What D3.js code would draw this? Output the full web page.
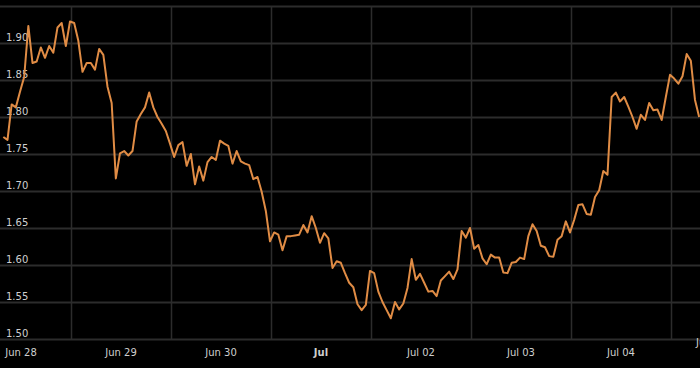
<!DOCTYPE html>
<html>
<head>
<meta charset="utf-8">
<script src="https://cdn.jsdelivr.net/npm/d3@7"></script>
<style>
  html, body { margin: 0; padding: 0; background: #000; }
  svg { display: block; }
</style>
</head>
<body>
<svg id="chart" width="700" height="368"></svg>
<script>
// ---- data ----
const startTime = Date.UTC(2024, 5, 27, 20); // first hourly observation: Jun 27 20:00
const values = [
  1.773,1.769,1.817,1.813,1.834,1.854,1.923,1.873,1.875,1.894,
  1.880,1.896,1.887,1.921,1.927,1.896,1.929,1.927,1.903,1.861,
  1.873,1.873,1.864,1.892,1.884,1.841,1.819,1.717,1.751,1.754,
  1.748,1.754,1.794,1.804,1.813,1.833,1.813,1.800,1.791,1.781,
  1.764,1.746,1.762,1.766,1.734,1.750,1.709,1.733,1.714,1.739,
  1.746,1.742,1.768,1.764,1.761,1.737,1.754,1.740,1.737,1.735,
  1.716,1.719,1.699,1.673,1.632,1.644,1.641,1.620,1.639,1.639,
  1.640,1.641,1.654,1.644,1.666,1.650,1.630,1.643,1.636,1.596,
  1.605,1.603,1.589,1.576,1.570,1.547,1.539,1.546,1.592,1.589,
  1.564,1.550,1.539,1.528,1.550,1.540,1.548,1.569,1.608,1.580,
  1.588,1.576,1.564,1.565,1.558,1.579,1.585,1.591,1.581,1.594,
  1.646,1.637,1.650,1.622,1.627,1.609,1.601,1.614,1.610,1.610,
  1.590,1.589,1.603,1.604,1.610,1.608,1.639,1.655,1.646,1.626,
  1.624,1.612,1.611,1.634,1.639,1.659,1.644,1.661,1.681,1.682,
  1.669,1.668,1.692,1.701,1.727,1.722,1.827,1.833,1.821,1.827,
  1.814,1.800,1.784,1.803,1.796,1.819,1.809,1.810,1.796,1.827,
  1.857,1.852,1.845,1.855,1.885,1.876,1.823,1.800
];
const dayTicks = [
  Date.UTC(2024,5,28), Date.UTC(2024,5,29), Date.UTC(2024,5,30), Date.UTC(2024,6,1),
  Date.UTC(2024,6,2), Date.UTC(2024,6,3), Date.UTC(2024,6,4), Date.UTC(2024,6,5)
];
const dayLabels = ["Jun 28", "Jun 29", "Jun 30", "Jul", "Jul 02", "Jul 03", "Jul 04", "Jul 05"];
const yTicks = [1.50, 1.55, 1.60, 1.65, 1.70, 1.75, 1.80, 1.85, 1.90];
const yGrid = [1.50, 1.55, 1.60, 1.65, 1.70, 1.75, 1.80, 1.85, 1.90, 1.95];

const data = values.map((v, i) => ({ t: new Date(startTime + i * 3600e3), v }));

// ---- layout ----
const W = 700, H = 368;
const svg = d3.select("#chart");
svg.append("rect").attr("width", W).attr("height", H).attr("fill", "#000");

const x = d3.scaleUtc()
  .domain([new Date(Date.UTC(2024,5,28)), new Date(Date.UTC(2024,6,5))])
  .range([20, 720]);
const y = d3.scaleLinear().domain([1.50, 1.95]).range([339, 6]);

const gridColor = "#2c2c2c";
const textColor = "#cfcfcf";
const font = "DejaVu Sans, sans-serif";

// horizontal grid
svg.append("g").selectAll("line").data(yGrid).join("line")
  .attr("x1", 0).attr("x2", W)
  .attr("y1", d => Math.round(y(d)) + 0.5).attr("y2", d => Math.round(y(d)) + 0.5)
  .attr("stroke", gridColor).attr("stroke-width", 2);

// vertical grid (mid-day separators)
const vGrid = dayTicks.slice(0, 7).map(d => new Date(d + 12 * 3600e3 + 20 * 60e3));
svg.append("g").selectAll("line").data(vGrid).join("line")
  .attr("x1", d => Math.round(x(d)) + 0.5).attr("x2", d => Math.round(x(d)) + 0.5)
  .attr("y1", y(1.95)).attr("y2", y(1.50))
  .attr("stroke", gridColor).attr("stroke-width", 1.5);

// y labels
svg.append("g").selectAll("text").data(yTicks).join("text")
  .attr("x", 6).attr("y", d => y(d) - 2)
  .attr("fill", textColor).attr("font-family", font).attr("font-size", 10)
  .text(d => d.toFixed(2));

// x labels
const xl = svg.append("g");
dayTicks.forEach((d, i) => {
  const last = i === dayTicks.length - 1;
  xl.append("text")
    .attr("x", last ? W - 4 : x(new Date(d)) + 1)
    .attr("y", last ? 346 : 356)
    .attr("text-anchor", last ? "start" : "middle")
    .attr("fill", textColor).attr("font-family", font).attr("font-size", 10)
    .attr("font-weight", dayLabels[i] === "Jul" ? "bold" : "normal")
    .text(dayLabels[i]);
});

// line
const line = d3.line().x(d => x(d.t)).y(d => y(d.v));
svg.append("path").datum(data)
  .attr("d", line)
  .attr("fill", "none")
  .attr("stroke", "#e08c45")
  .attr("stroke-width", 2)
  .attr("stroke-linejoin", "round");
</script>
</body>
</html>
